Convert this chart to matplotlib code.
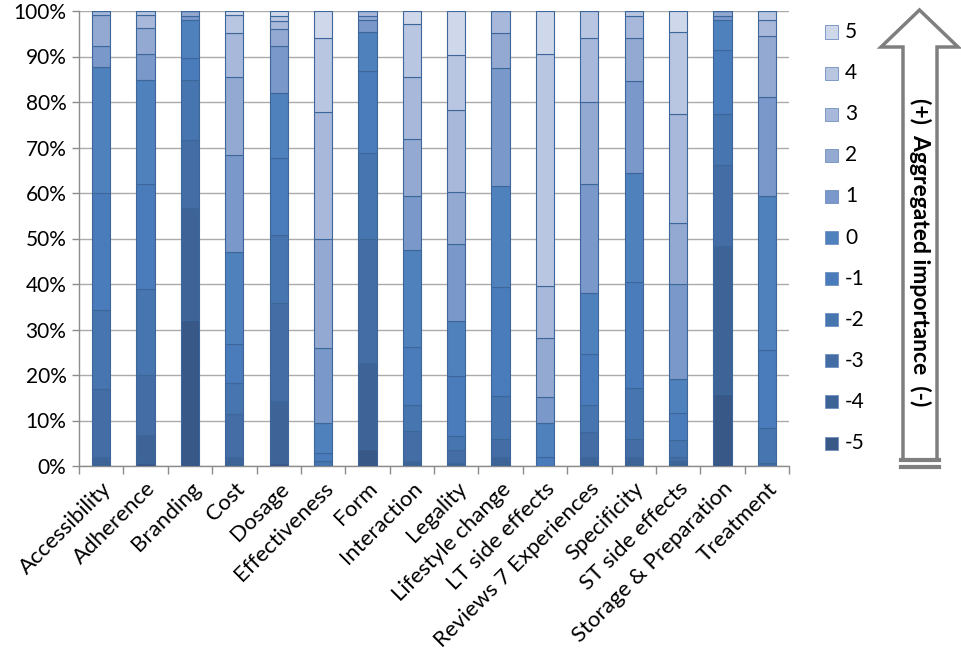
import matplotlib
matplotlib.use("Agg")
import matplotlib.pyplot as plt
from matplotlib.patches import Polygon, Rectangle
from matplotlib.lines import Line2D
import numpy as np

# =========== Data ============

categories = [
    "Accessibility", "Adherence", "Branding", "Cost", "Dosage",
    "Effectiveness", "Form", "Interaction", "Legality", "Lifestyle change",
    "LT side effects", "Reviews 7 Experiences", "Specificity",
    "ST side effects", "Storage & Preparation", "Treatment",
]

levels = [-5, -4, -3, -2, -1, 0, 1, 2, 3, 4, 5]

# share (%) of each importance level per category
lvl_m5 = [0, 0.6, 32.0, 0, 0.7, 0, 3.7, 0, 0, 0, 0, 0, 0, 0, 15.9, 0]
lvl_m4 = [2.0, 6.2, 24.6, 2.0, 13.6, 0, 19.0, 1.0, 0.7, 2.0, 0, 2.0, 2.0, 1.0, 32.4, 0]
lvl_m3 = [15.0, 13.2, 15.1, 9.5, 21.5, 0, 27.2, 6.8, 2.9, 3.9, 0, 5.5, 3.9, 0.9, 17.8, 0.7]
lvl_m2 = [17.2, 19.0, 13.2, 6.8, 14.9, 1.0, 18.9, 5.7, 2.9, 9.5, 0, 5.8, 11.3, 3.9, 11.2, 7.7]
lvl_m1 = [25.8, 23.0, 4.7, 8.6, 17.1, 1.9, 18.0, 12.7, 13.2, 24.0, 2.0, 11.4, 23.2, 5.8, 14.1, 17.0]
lvl_0 = [27.6, 22.9, 8.4, 20.1, 14.2, 6.6, 8.5, 21.3, 12.2, 22.2, 7.4, 13.3, 24.0, 7.5, 6.6, 34.0]
lvl_p1 = [4.7, 5.6, 1.0, 21.3, 10.2, 16.5, 2.7, 11.8, 17.0, 25.8, 5.7, 24.0, 20.2, 21.0, 1.0, 21.7]
lvl_p2 = [6.8, 5.7, 1.0, 17.1, 3.8, 24.0, 1.0, 12.5, 11.4, 7.7, 13.1, 18.0, 9.5, 13.3, 1.0, 13.3]
lvl_p3 = [0.9, 2.9, 0, 9.7, 1.8, 27.8, 1.0, 13.6, 17.9, 4.9, 11.4, 14.1, 4.9, 23.9, 0, 3.6]
lvl_p4 = [0, 0.9, 0, 4.0, 1.0, 16.3, 0, 11.7, 12.2, 0, 51.0, 5.9, 1.0, 18.0, 0, 2.0]
lvl_p5 = [0, 0, 0, 0.9, 1.2, 5.9, 0, 2.9, 9.5, 0, 9.4, 0, 0, 4.8, 0, 0]

series = [lvl_m5, lvl_m4, lvl_m3, lvl_m2, lvl_m1, lvl_0,
          lvl_p1, lvl_p2, lvl_p3, lvl_p4, lvl_p5]

colors = ["#385888", "#3E6497", "#436DA4", "#4675AF", "#4A7BBA", "#4F81BD",
          "#7A98C9", "#93A9D2", "#A7B8DA", "#B9C6E1", "#CFD8EA"]

W, H = 962, 663
FONT = "Lato"
FS = 15


def px(x, y):
    """pixel position (from top-left) to figure fraction"""
    return x / W, 1 - y / H


fig = plt.figure(figsize=(W / 100, H / 100), dpi=100)
plt.rcParams["font.family"] = [FONT, "DejaVu Sans"]

ax = fig.add_axes([79 / W, 1 - 466 / H, 710 / W, 455 / H])

x = np.arange(len(categories))
bottom = np.zeros(len(categories))
for vals, col in zip(series, colors):
    vals = np.array(vals, dtype=float)
    ax.bar(x, vals, 0.41, bottom=bottom, color=col,
           edgecolor="#3D679B", linewidth=0.8, zorder=3)
    bottom += vals

ax.set_xlim(-0.5, len(categories) - 0.5)
ax.set_ylim(0, 100)

ax.set_yticks(range(0, 101, 10))
ax.set_yticklabels([f"{v}%" for v in range(0, 101, 10)], fontsize=FS)
ax.yaxis.grid(True, color="#ABABAB", linewidth=1.0, zorder=0)
ax.set_axisbelow(True)

ax.set_xticks(x)
ax.set_xticklabels(categories, rotation=45, ha="right",
                   rotation_mode="anchor", fontsize=FS + 1)
ax.set_xticks(np.arange(-0.5, len(categories)), minor=True)
ax.tick_params(axis="x", which="major", length=0, pad=9)
ax.tick_params(axis="x", which="minor", length=6, color="#8C8C8C", width=1)
ax.tick_params(axis="y", length=5, color="#8C8C8C", width=1, pad=4)

for s in ["top", "right"]:
    ax.spines[s].set_visible(False)
for s in ["left", "bottom"]:
    ax.spines[s].set_color("#8C8C8C")
    ax.spines[s].set_linewidth(1)

# =========== Legend ============
for i, (lv, col) in enumerate(zip(levels[::-1], colors[::-1])):
    yc = 32 + i * 41.1
    x0, y0 = px(825, yc + 6.5)
    fig.add_artist(Rectangle((x0, y0), 13 / W, 13 / H, transform=fig.transFigure,
                             facecolor=col, edgecolor="#6F8FBF", linewidth=0.6))
    tx, ty = px(845, yc)
    fig.text(tx, ty, str(lv), fontsize=FS, va="center", ha="left")

# =========== Arrow ============
arrow_pts = [(903, 460), (903, 47), (881, 47), (919.5, 10), (958, 47),
             (937, 47), (937, 460)]
fig.add_artist(Polygon([px(a, b) for a, b in arrow_pts], closed=True,
                       transform=fig.transFigure, facecolor="white",
                       edgecolor="#7F7F7F", linewidth=2.5))
for yy in (460, 467):
    xa, ya = px(901, yy)
    xb, _ = px(939, yy)
    fig.add_artist(Line2D([xa, xb], [ya, ya], transform=fig.transFigure,
                          color="#7F7F7F", linewidth=3))

tx, ty = px(920, 252)
fig.text(tx, ty, "(+)  Aggregated importance  (-)", rotation=270,
         fontsize=16.5, fontweight="bold", ha="center", va="center")

fig.savefig("out.png", dpi=100)
